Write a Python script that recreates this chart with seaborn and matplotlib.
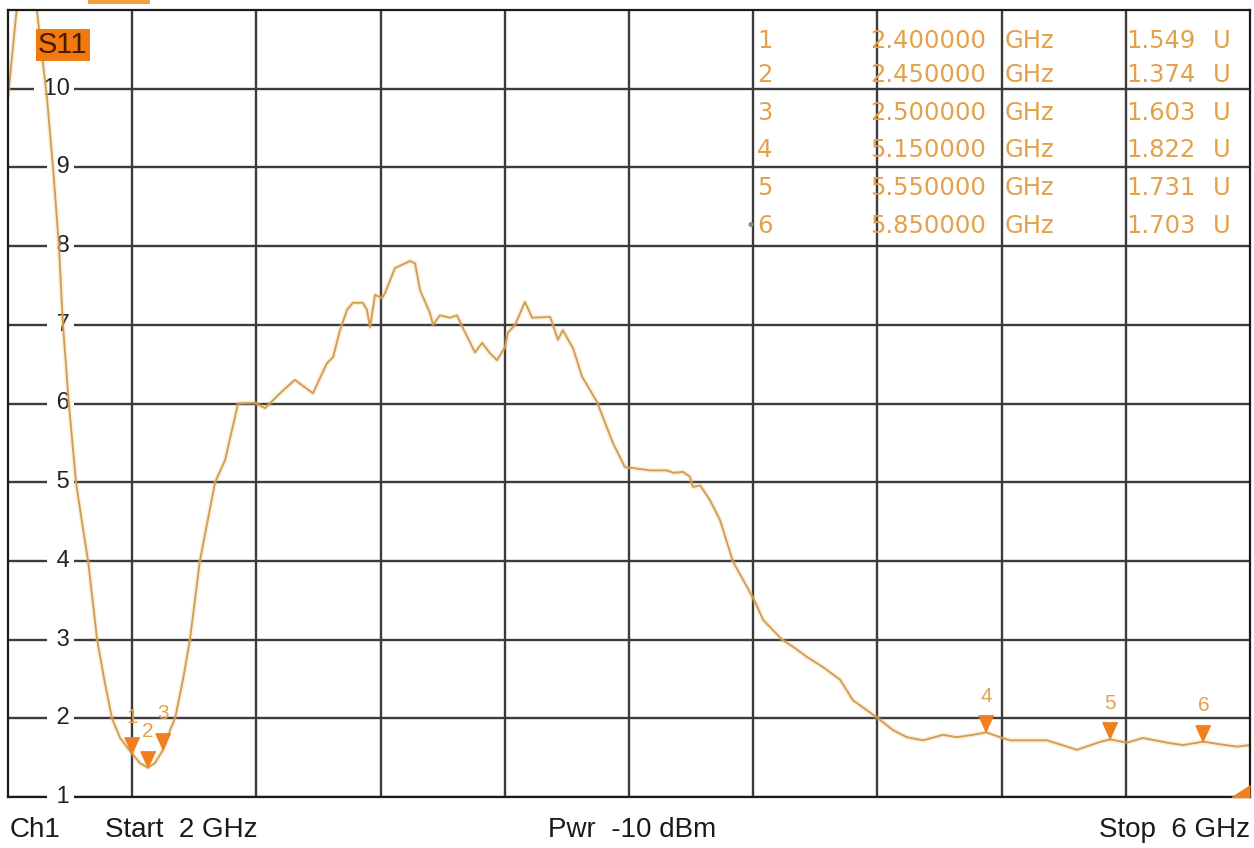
import matplotlib
matplotlib.use('Agg')
import matplotlib.pyplot as plt
import matplotlib.transforms as mtransforms
from matplotlib.patches import Rectangle
import seaborn as sns
import pandas as pd

# --- trace data ---
freq_ghz = [2.000, 2.029, 2.060, 2.093, 2.126, 2.145, 2.164, 2.177, 2.196, 2.219,
            2.238, 2.258, 2.287, 2.312, 2.335, 2.361, 2.400, 2.425, 2.450, 2.473,
            2.500, 2.522, 2.538, 2.564, 2.586, 2.618, 2.667, 2.699, 2.741, 2.795,
            2.828, 2.876, 2.924, 2.982, 3.027, 3.047, 3.069, 3.092, 3.111, 3.143,
            3.156, 3.166, 3.182, 3.205, 3.214, 3.246, 3.295, 3.311, 3.327, 3.359,
            3.369, 3.391, 3.424, 3.446, 3.465, 3.504, 3.527, 3.552, 3.575, 3.601,
            3.610, 3.633, 3.665, 3.688, 3.746, 3.755, 3.771, 3.787, 3.820, 3.849,
            3.897, 3.948, 3.987, 4.013, 4.068, 4.122, 4.142, 4.174, 4.196, 4.206,
            4.229, 4.261, 4.293, 4.335, 4.380, 4.406, 4.432, 4.493, 4.528, 4.573,
            4.625, 4.680, 4.721, 4.767, 4.802, 4.850, 4.895, 4.947, 5.011, 5.056,
            5.108, 5.150, 5.195, 5.227, 5.346, 5.443, 5.517, 5.550, 5.604, 5.655,
            5.733, 5.784, 5.850, 5.903, 5.958, 6.000]
vswr = [9.89, 11.05, 12.2, 11.0, 9.86, 9.0, 8.0, 7.0, 6.0, 5.0,
        4.5, 4.0, 3.0, 2.45, 2.0, 1.75, 1.549, 1.43, 1.374, 1.43,
        1.603, 1.85, 2.0, 2.5, 3.0, 4.0, 5.0, 5.28, 6.0, 6.01,
        5.94, 6.13, 6.3, 6.13, 6.51, 6.59, 6.93, 7.19, 7.28, 7.28,
        7.19, 6.97, 7.38, 7.34, 7.4, 7.72, 7.81, 7.78, 7.44, 7.15,
        7.0, 7.12, 7.09, 7.12, 6.96, 6.65, 6.77, 6.64, 6.55, 6.72,
        6.9, 7.0, 7.29, 7.09, 7.1, 7.0, 6.81, 6.93, 6.7, 6.34,
        6.02, 5.5, 5.19, 5.18, 5.15, 5.15, 5.12, 5.13, 5.07, 4.94,
        4.96, 4.77, 4.52, 3.99, 3.67, 3.48, 3.25, 3.0, 2.91, 2.78,
        2.65, 2.49, 2.23, 2.1, 2.0, 1.85, 1.76, 1.72, 1.79, 1.76,
        1.79, 1.822, 1.76, 1.72, 1.72, 1.60, 1.70, 1.731, 1.69, 1.75,
        1.69, 1.66, 1.703, 1.67, 1.64, 1.66]

# --- markers ---
marker_ids = ['1', '2', '3', '4', '5', '6']
marker_freq = [2.40, 2.45, 2.50, 5.15, 5.55, 5.85]
marker_val = [1.549, 1.374, 1.603, 1.822, 1.731, 1.703]
marker_freq_txt = ['2.400000', '2.450000', '2.500000', '5.150000', '5.550000', '5.850000']
marker_val_txt = ['1.549', '1.374', '1.603', '1.822', '1.731', '1.703']

y_ticks = [1, 2, 3, 4, 5, 6, 7, 8, 9, 10]
x_grid = [2.4, 2.8, 3.2, 3.6, 4.0, 4.4, 4.8, 5.2, 5.6]

df = pd.DataFrame({'freq': freq_ghz, 'vswr': vswr})

TRACE = '#CF9C55'
ORANGE = '#F07F1F'
LABEL = '#E3A14A'
GRID = '#3c3c3c'

sns.set_style('white')
plt.rcParams['font.family'] = ['Liberation Sans', 'DejaVu Sans']

W, H = 1254, 848
fig = plt.figure(figsize=(W / 100, H / 100), dpi=100)
ax = fig.add_axes([8 / W, 51 / H, 1242 / W, 787 / H])

# glow + trace
sns.lineplot(data=df, x='freq', y='vswr', ax=ax, color='#F5B860', lw=3.5, alpha=0.25)
sns.lineplot(data=df, x='freq', y='vswr', ax=ax, color=TRACE, lw=1.3)

ax.set_xlim(2, 6)
ax.set_ylim(1, 11)
ax.set_xticks(x_grid)
ax.set_yticks(y_ticks)
ax.set_axisbelow(True)
ax.grid(True, color=GRID, lw=1.7)
ax.tick_params(length=0, labelbottom=False, labelleft=False)
ax.set_xlabel('')
ax.set_ylabel('')
for sp in ax.spines.values():
    sp.set_color('#1a1a1a')
    sp.set_linewidth(1.6)

# y scale labels drawn inside the grid
trans = mtransforms.blended_transform_factory(ax.transAxes, ax.transData)
for v in y_ticks:
    ax.text(62 / 1242, v, ' ' + str(v), transform=trans, ha='right', va='center',
            fontsize=17, color='#222222', zorder=3 if v == 1 else 1, clip_on=False,
            bbox=dict(facecolor='white', edgecolor='none', pad=2.5))

# marker triangles (tip on the trace)
tri = [(0, 0), (-0.45, 1), (0.45, 1)]
ax.plot(marker_freq, marker_val, linestyle='none', marker=tri, ms=24,
        color=ORANGE, mec=ORANGE, zorder=4)
for mid, f, v in zip(marker_ids, marker_freq, marker_val):
    ax.annotate(mid, (f, v), xytext=(0, 26), textcoords='offset points',
                ha='center', va='center', fontsize=15, color=LABEL, zorder=4)

# off-scale indicator at the bottom right
wedge = [(0, 0), (-1, 0), (0, 0.65)]
ax.plot([6.0], [1.0], linestyle='none', marker=wedge, ms=26, color=ORANGE,
        clip_on=False, zorder=5)

# S11 trace label
fig.text(38 / W, 1 - 45 / H, 'S11', fontsize=21, color='#4a1a00', ha='left', va='center',
         bbox=dict(facecolor='#F07A10', edgecolor='none', pad=1.5))
fig.patches.append(Rectangle((88 / W, 1 - 4 / H), 62 / W, 4 / H, transform=fig.transFigure,
                             facecolor='#F5A040', edgecolor='none'))

# marker table
row_y = [41, 75, 113, 150, 188, 226]
for i in range(6):
    y = 1 - row_y[i] / H
    kw = dict(fontsize=17.5, color=LABEL, va='center', family=['DejaVu Sans'])
    fig.text(757 / W, y, marker_ids[i], ha='left', **kw)
    fig.text(986 / W, y, marker_freq_txt[i], ha='right', **kw)
    fig.text(1005 / W, y, 'GHz', ha='left', **kw)
    fig.text(1196 / W, y, marker_val_txt[i], ha='right', **kw)
    fig.text(1213 / W, y, 'U', ha='left', **kw)
fig.text(755 / W, 1 - row_y[5] / H, '•', ha='right', va='center', fontsize=12,
         color='#888888', family=['DejaVu Sans'])

# footer
fy = 1 - 830 / H
fig.text(10 / W, fy, 'Ch1', ha='left', va='center', fontsize=20, color='#1a1a1a')
fig.text(105 / W, fy, 'Start  2 GHz', ha='left', va='center', fontsize=20, color='#1a1a1a')
fig.text(548 / W, fy, 'Pwr  -10 dBm', ha='left', va='center', fontsize=20, color='#1a1a1a')
fig.text(1250 / W, fy, 'Stop  6 GHz', ha='right', va='center', fontsize=20, color='#1a1a1a')

fig.savefig('out.png', dpi=100)
